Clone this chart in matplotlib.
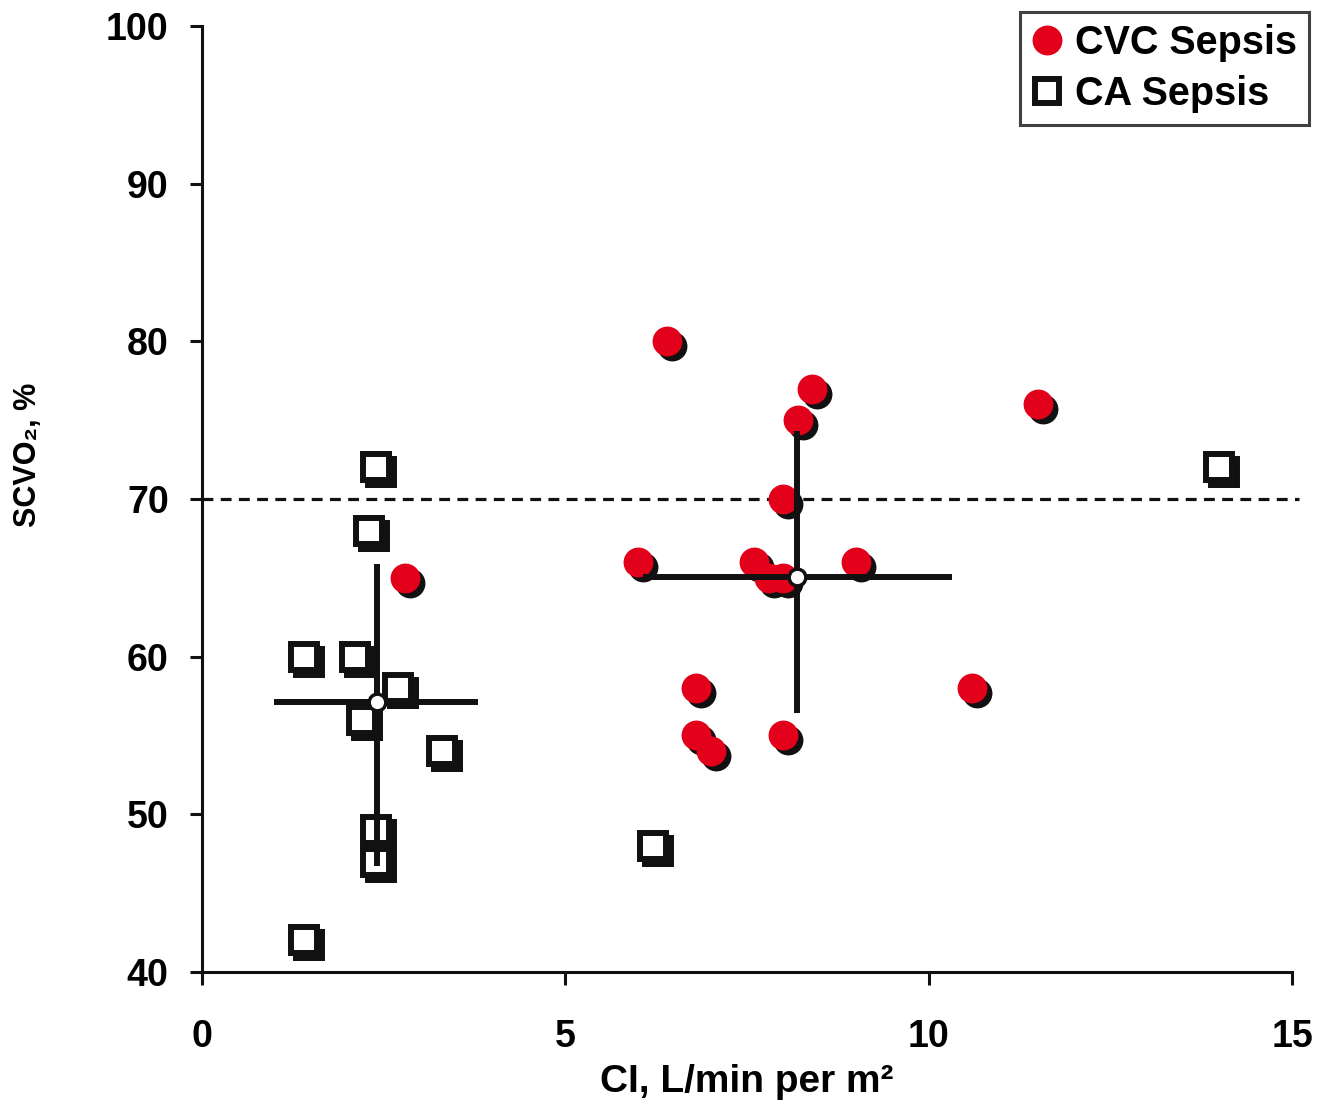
import matplotlib
matplotlib.use('Agg')
import matplotlib.pyplot as plt
from matplotlib.lines import Line2D
from matplotlib.transforms import ScaledTranslation

plt.rcParams['font.family'] = ['Liberation Sans', 'DejaVu Sans']
plt.rcParams['font.weight'] = 'bold'

# ---- data ----
cvc_ci = [6.4, 8.4, 8.2, 11.5, 8.0, 6.0, 7.6, 7.8, 8.0, 9.0, 2.8, 6.8, 10.6, 6.8, 7.0, 8.0]
cvc_scvo2 = [80, 77, 75, 76, 70, 66, 66, 65, 65, 66, 65, 58, 58, 55, 54, 55]

ca_ci = [2.4, 2.3, 1.4, 2.1, 2.7, 2.2, 3.3, 2.4, 2.4, 1.4, 6.2, 14.0]
ca_scvo2 = [72, 68, 60, 60, 58, 56, 54, 49, 47, 42, 48, 72]

# group means and spread (crosshair extents)
ca_mean = [2.41, 57.15]
ca_x_span = [0.99, 3.80]
ca_y_span = [46.7, 65.9]
cvc_mean = [8.19, 65.07]
cvc_x_span = [6.07, 10.32]
cvc_y_span = [56.4, 74.3]

threshold = 70
x_ticks = [0, 5, 10, 15]
y_ticks = [40, 50, 60, 70, 80, 90, 100]
legend_labels = ['CVC Sepsis', 'CA Sepsis']

RED = '#e2001a'
BLACK = '#111111'

fig = plt.figure(figsize=(13.19, 11.11), dpi=100)
ax = fig.add_axes([202/1319, 1-972/1111, 1090/1319, 946/1111])
ax.set_xlim(0, 15)
ax.set_ylim(40, 100)

shadow = ax.transData + ScaledTranslation(5/100, -5/100, fig.dpi_scale_trans)

# threshold line
ax.plot([0, 15.1], [threshold, threshold], color=BLACK, lw=2.3,
        linestyle=(0, (3.4, 2.3)), zorder=1, clip_on=False)

# CA sepsis squares with shadow
ax.plot(ca_ci, ca_scvo2, linestyle='none', marker='s', ms=18.5, mfc=BLACK,
        mec=BLACK, mew=4.3, transform=shadow, zorder=2)
ax.plot(ca_ci, ca_scvo2, linestyle='none', marker='s', ms=18.5, mfc='white',
        mec=BLACK, mew=4.3, zorder=3)

# CVC sepsis circles with shadow
ax.plot(cvc_ci, cvc_scvo2, linestyle='none', marker='o', ms=21.5, mfc=BLACK,
        mec='none', transform=shadow, zorder=2)
ax.plot(cvc_ci, cvc_scvo2, linestyle='none', marker='o', ms=21.5, mfc=RED,
        mec='none', zorder=3)

# crosshairs
for m, xs, ys in [(ca_mean, ca_x_span, ca_y_span), (cvc_mean, cvc_x_span, cvc_y_span)]:
    ax.plot(xs, [m[1], m[1]], color=BLACK, lw=4.3, solid_capstyle='butt', zorder=4)
    ax.plot([m[0], m[0]], ys, color=BLACK, lw=4.3, solid_capstyle='butt', zorder=4)
    ax.plot([m[0]], [m[1]], marker='o', ms=12, mfc='white', mec=BLACK, mew=2.5, zorder=5)

# axes styling
for s in ['top', 'right']:
    ax.spines[s].set_visible(False)
for s in ['left', 'bottom']:
    ax.spines[s].set_linewidth(2.2)
    ax.spines[s].set_color(BLACK)
ax.set_xticks(x_ticks)
ax.set_yticks(y_ticks)
ax.tick_params(axis='both', direction='out', length=9, width=2.2, color=BLACK,
               labelsize=27)
ax.tick_params(axis='x', pad=25)
ax.tick_params(axis='y', pad=15)
for lab in ax.get_xticklabels() + ax.get_yticklabels():
    lab.set_fontweight('bold')

ax.set_xlabel('CI, L/min per m²', fontsize=28, fontweight='bold', labelpad=6)
fig.text(28/1319, 1-455/1111, 'SCVO₂, %', rotation=90, fontsize=22,
         fontweight='bold', ha='center', va='center')

handles = [
    Line2D([], [], linestyle='none', marker='o', ms=21.5, mfc=RED, mec='none'),
    Line2D([], [], linestyle='none', marker='s', ms=17, mfc='white', mec=BLACK, mew=4.3),
]
leg = fig.legend(handles, legend_labels, loc='upper right',
                 bbox_to_anchor=(1309/1319, 1-12/1111), borderaxespad=0,
                 prop={'size': 28.5, 'weight': 'bold'}, frameon=True, fancybox=False,
                 handlelength=0.8, handletextpad=0.3, borderpad=0.3,
                 labelspacing=0.33, edgecolor=BLACK)
leg.get_frame().set_linewidth(2.2)

fig.savefig('out.png', dpi=100)
